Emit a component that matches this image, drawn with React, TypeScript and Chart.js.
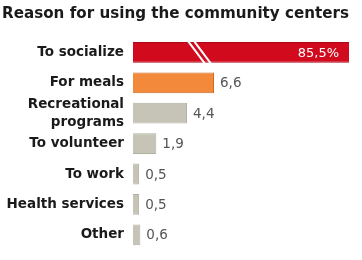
import React, { useEffect, useRef } from "react";
import { Chart, registerables } from "chart.js";

Chart.register(...registerables);

const titleText = "Reason for using the community centers";
const categories: (string | string[])[] = [
  "To socialize",
  "For meals",
  ["Recreational", "programs"],
  "To volunteer",
  "To work",
  "Health services",
  "Other",
];
const values = [85.5, 6.6, 4.4, 1.9, 0.5, 0.5, 0.6];
const valueLabels = ["85,5%", "6,6", "4,4", "1,9", "0,5", "0,5", "0,6"];
const barColors = ["#d20a1e", "#f2893b", "#c5c4b6", "#c5c4b6", "#c5c4b6", "#c5c4b6", "#c5c4b6"];
const borderColors = ["#a8071a", "#d06a22", "#b1b0a2", "#b1b0a2", "#b1b0a2", "#b1b0a2", "#b1b0a2"];
const axisMax = 17.6; // broken axis: first bar is truncated

const labelPlugin = {
  id: "valueLabels",
  afterDatasetsDraw(chart: any) {
    const ctx = chart.ctx;
    const meta = chart.getDatasetMeta(0);
    const area = chart.chartArea;
    ctx.save();
    meta.data.forEach((bar: any, i: number) => {
      const y = bar.y;
      if (values[i] > axisMax) {
        const top = y - bar.height / 2;
        const bot = y + bar.height / 2;
        const bx = area.left + (area.right - area.left) * 0.255;
        ctx.strokeStyle = "#ffffff";
        ctx.lineWidth = 2;
        for (const off of [0, 6]) {
          ctx.beginPath();
          ctx.moveTo(bx + off, top - 1);
          ctx.lineTo(bx + off + 17, bot + 1);
          ctx.stroke();
        }
        ctx.fillStyle = "#ffffff";
        ctx.font = "13px 'DejaVu Sans'";
        ctx.textAlign = "right";
        ctx.textBaseline = "middle";
        ctx.fillText(valueLabels[i], area.right - 10, y + 1);
      } else {
        ctx.fillStyle = "#555555";
        ctx.font = "13.5px 'DejaVu Sans'";
        ctx.textAlign = "left";
        ctx.textBaseline = "middle";
        ctx.fillText(valueLabels[i], bar.x + 6, y + 1);
      }
    });
    ctx.restore();
  },
};

const bgPlugin = {
  id: "bg",
  beforeDraw(chart: any) {
    const ctx = chart.ctx;
    ctx.save();
    ctx.fillStyle = "#ffffff";
    ctx.fillRect(0, 0, chart.width, chart.height);
    ctx.restore();
  },
};

export default function App() {
  const ref = useRef<HTMLCanvasElement | null>(null);
  useEffect(() => {
    document.body.style.margin = "0";
    const chart = new Chart(ref.current as HTMLCanvasElement, {
      type: "bar",
      data: {
        labels: categories,
        datasets: [
          {
            data: values,
            backgroundColor: barColors,
            borderColor: borderColors,
            borderWidth: 1,
            barPercentage: 0.9,
            categoryPercentage: 0.76,
          },
        ],
      },
      options: {
        indexAxis: "y",
        animation: false,
        responsive: false,
        maintainAspectRatio: false,
        layout: { padding: { left: 2, right: 13, top: 0, bottom: 10 } },
        plugins: {
          legend: { display: false },
          tooltip: { enabled: false },
          title: {
            display: true,
            text: titleText,
            align: "start",
            color: "#1a1a1a",
            font: { family: "'DejaVu Sans'", size: 15.2, weight: "bold" },
            padding: { top: 5, bottom: 14 },
          },
        },
        scales: {
          x: {
            display: false,
            min: 0,
            max: axisMax,
          },
          y: {
            grid: { display: false, drawTicks: false },
            border: { display: false },
            ticks: {
              autoSkip: false,
              color: "#1a1a1a",
              padding: 9,
              font: { family: "'DejaVu Sans'", size: 13.5, weight: "bold", lineHeight: 1.3 },
            },
            afterFit(scale: any) {
              scale.width = 131;
              scale.paddingTop = 0;
              scale.paddingBottom = 0;
            },
          },
        },
      },
      plugins: [bgPlugin, labelPlugin],
    } as any);
    return () => chart.destroy();
  }, []);
  return (
    <div style={{ width: 362, height: 260 }}>
      <canvas ref={ref} width={362} height={260} style={{ display: "block" }} />
    </div>
  );
}
